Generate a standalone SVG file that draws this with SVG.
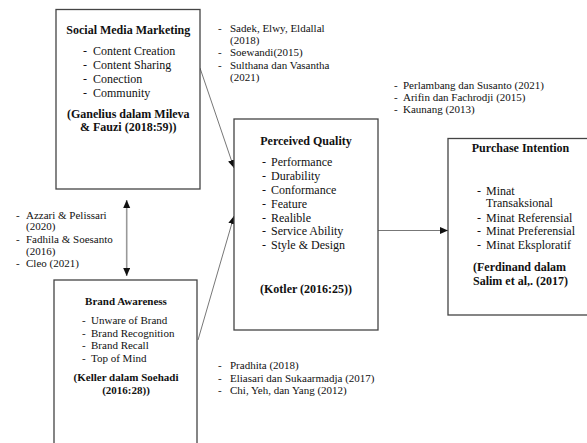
<svg xmlns="http://www.w3.org/2000/svg" width="587" height="443" viewBox="0 0 587 443" font-family="'Liberation Serif', 'Times New Roman', 'DejaVu Serif', serif">
<style>
  .box { fill: #fff; stroke: #444; stroke-width: 1.3; }
  text { font-family: "Liberation Serif", "Times New Roman", "DejaVu Serif", serif; fill: #111; }
  .s12 { font-size: 12px; }
  .s11 { font-size: 11px; }
  .b { font-weight: bold; }
  .mid { text-anchor: middle; }
  .conn { stroke: #777; stroke-width: 1; fill: none; }
  .dbl { stroke: #999; stroke-width: 1.6; fill: none; }
</style>
<defs>
  <marker id="ah" markerUnits="userSpaceOnUse" markerWidth="9" markerHeight="8" refX="8" refY="3.5" orient="auto-start-reverse">
    <path d="M0,0 L8,3.5 L0,7 z" fill="#111"/>
  </marker>
</defs>
<rect width="587" height="443" fill="#fff"/>

<g id="connectors">
  <line class="conn" x1="200" y1="68" x2="234" y2="168" marker-end="url(#ah)"/>
  <line class="conn" x1="198" y1="340" x2="234" y2="216" marker-end="url(#ah)"/>
  <line class="conn" x1="378" y1="230.5" x2="448" y2="230.5" marker-end="url(#ah)"/>
  <line class="dbl" x1="126.7" y1="200" x2="126.7" y2="276" marker-start="url(#ah)" marker-end="url(#ah)"/>
</g>

<g id="smm">
  <rect class="box" x="56" y="9.5" width="144" height="179.5"/>
  <text class="s12 b mid" x="128.3" y="34">Social Media Marketing</text>
  <g class="s12">
    <text x="83" y="55">-</text><text x="93" y="55">Content Creation</text>
    <text x="83" y="69">-</text><text x="93" y="69">Content Sharing</text>
    <text x="83" y="83">-</text><text x="93" y="83">Conection</text>
    <text x="83" y="97">-</text><text x="93" y="97">Community</text>
  </g>
  <text class="s12 b mid" x="128.3" y="118">(Ganelius dalam Mileva</text>
  <text class="s12 b mid" x="128.3" y="131">&amp; Fauzi (2018:59))</text>
</g>

<g id="ba">
  <rect class="box" x="54" y="280" width="143" height="175"/>
  <text class="s11 b mid" x="126" y="305">Brand Awareness</text>
  <g class="s11">
    <text x="82" y="324">-</text><text x="91" y="324">Unware of Brand</text>
    <text x="82" y="336.5">-</text><text x="91" y="336.5">Brand Recognition</text>
    <text x="82" y="349">-</text><text x="91" y="349">Brand Recall</text>
    <text x="82" y="361.5">-</text><text x="91" y="361.5">Top of Mind</text>
  </g>
  <text class="s11 b mid" x="126" y="381">(Keller dalam Soehadi</text>
  <text class="s11 b mid" x="126" y="394">(2016:28))</text>
</g>

<g id="pq">
  <rect class="box" x="234" y="119" width="144" height="211"/>
  <text class="s12 b mid" x="306" y="145">Perceived Quality</text>
  <g class="s12">
    <text x="262" y="166">-</text><text x="271" y="166">Performance</text>
    <text x="262" y="180">-</text><text x="271" y="180">Durability</text>
    <text x="262" y="194">-</text><text x="271" y="194">Conformance</text>
    <text x="262" y="207.5">-</text><text x="271" y="207.5">Feature</text>
    <text x="262" y="221.5">-</text><text x="271" y="221.5">Realible</text>
    <text x="262" y="235">-</text><text x="271" y="235">Service Ability</text>
    <text x="262" y="249">-</text><text x="271" y="249">Style &amp; Design</text>
  </g>
  <text class="s12 b" x="260" y="293">(Kotler (2016:25))</text>
</g>

<g id="pi">
  <rect class="box" x="448" y="138.5" width="150" height="176.5"/>
  <text class="s12 b mid" x="520.5" y="152">Purchase Intention</text>
  <g class="s12">
    <text x="477" y="194.5">-</text><text x="486" y="194.5">Minat</text>
    <text x="486" y="207">Transaksional</text>
    <text x="477" y="221.5">-</text><text x="486" y="221.5">Minat Referensial</text>
    <text x="477" y="235">-</text><text x="486" y="235">Minat Preferensial</text>
    <text x="477" y="248.5">-</text><text x="486" y="248.5">Minat Eksploratif</text>
  </g>
  <text class="s12 b" x="473" y="271">(Ferdinand dalam</text>
  <text class="s12 b" x="473" y="284.5">Salim et al,. (2017)</text>
</g>

<g id="cite-top" class="s11">
  <text x="218" y="31.5">-</text><text x="230" y="31.5">Sadek, Elwy, Eldallal</text>
  <text x="230" y="44">(2018)</text>
  <text x="218" y="56">-</text><text x="230" y="56">Soewandi(2015)</text>
  <text x="218" y="68.5">-</text><text x="230" y="68.5">Sulthana dan Vasantha</text>
  <text x="230" y="81">(2021)</text>
</g>

<g id="cite-right" class="s11">
  <text x="394" y="88.5">-</text><text x="403" y="88.5">Perlambang dan Susanto (2021)</text>
  <text x="394" y="100.5">-</text><text x="403" y="100.5">Arifin dan Fachrodji (2015)</text>
  <text x="394" y="112.5">-</text><text x="403" y="112.5">Kaunang (2013)</text>
</g>

<g id="cite-left" class="s11">
  <text x="16" y="218.5">-</text><text x="26" y="218.5">Azzari &amp; Pelissari</text>
  <text x="26" y="230">(2020)</text>
  <text x="16" y="243">-</text><text x="26" y="243">Fadhila &amp; Soesanto</text>
  <text x="26" y="254.5">(2016)</text>
  <text x="16" y="267">-</text><text x="26" y="267">Cleo (2021)</text>
</g>

<g id="cite-bottom" class="s11">
  <text x="218" y="368.5">-</text><text x="230" y="368.5">Pradhita (2018)</text>
  <text x="218" y="381.5">-</text><text x="230" y="381.5">Eliasari dan Sukaarmadja (2017)</text>
  <text x="218" y="394">-</text><text x="230" y="394">Chi, Yeh, dan Yang (2012)</text>
</g>
</svg>
